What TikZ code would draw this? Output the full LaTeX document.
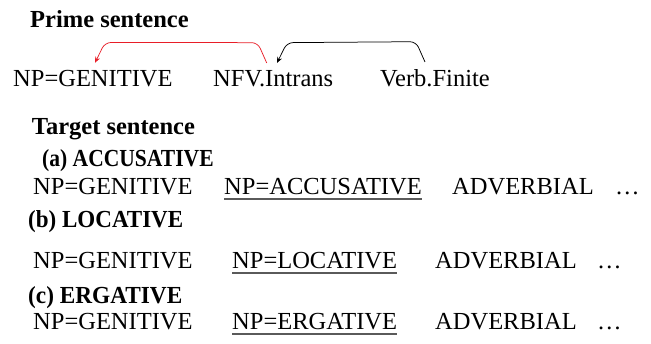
\documentclass[tikz,border=0pt]{standalone}
\usepackage{fontspec}
\setmainfont{Liberation Serif}
\usetikzlibrary{arrows.meta,calc}
\definecolor{linkred}{RGB}{232,30,40}
\definecolor{ulgray}{RGB}{90,90,90}
\tikzset{
  word/.style={anchor=base west, inner sep=0pt, font=\fontsize{24.5}{29}\selectfont},
  head/.style={anchor=base west, inner sep=0pt, font=\fontsize{24.5}{29}\selectfont\bfseries},
  uline/.style={draw=ulgray, line width=1.3pt},
  link/.style={-{Stealth[length=6pt,width=5pt]}, line width=0.75pt, rounded corners=6pt},
}
\begin{document}
\begin{tikzpicture}[x=1pt,y=1pt]
\useasboundingbox (0,0) rectangle (651,344);
% prime sentence
\node[head] (prime) at (30,316) {Prime sentence};
\node[word] (pgen) at (13,257.3) {NP=GENITIVE};
\node[word] (nfv) at (213,257.3) {NFV.Intrans};
\node[word] (verb) at (380,257.3) {Verb.Finite};
\coordinate (rs) at ([xshift=53.7pt,yshift=7.5pt]nfv.north west);
\coordinate (rt) at ([xshift=82pt,yshift=7.5pt]pgen.north west);
\coordinate (bs) at ([xshift=45pt,yshift=7.5pt]verb.north west);
\coordinate (bt) at ([xshift=64pt,yshift=7.5pt]nfv.north west);
\draw[link, draw=linkred] (rs) -- ++(-9,20.3) -- ($(rt)+(10,20.3)$) -- (rt);
\draw[link, draw=black] (bs) -- ++(-9,20.3) -- ($(bt)+(10,20.3)$) -- (bt);
% target sentence
\node[head] (target) at (31.7,209) {Target sentence};
\node[head] (ha) at (42,177) {\scalebox{0.88}[1]{(a) ACCUSATIVE}};
\node[word] (agen) at (33,149) {NP=GENITIVE};
\node[word] (aacc) at (224,149) {NP=ACCUSATIVE};
\node[word] (aadv) at (452,149) {ADVERBIAL};
\node[word] (adot) at (615,149) {…};
\node[head] (hb) at (28,116) {\scalebox{0.94}[1]{(b) LOCATIVE}};
\node[word] (bgen) at (33,75) {NP=GENITIVE};
\node[word] (bloc) at (232,75) {NP=LOCATIVE};
\node[word] (badv) at (435,75) {ADVERBIAL};
\node[word] (bdot) at (597,75) {…};
\node[head] (hc) at (28,40) {\scalebox{0.95}[1]{(c) ERGATIVE}};
\node[word] (cgen) at (33,14) {NP=GENITIVE};
\node[word] (cerg) at (232,14) {NP=ERGATIVE};
\node[word] (cadv) at (435,14) {ADVERBIAL};
\node[word] (cdot) at (597,14) {…};
\draw[uline] ([yshift=-4pt]aacc.base west) -- ([yshift=-4pt]aacc.base east);
\draw[uline] ([yshift=-4pt]bloc.base west) -- ([yshift=-4pt]bloc.base east);
\draw[uline] ([yshift=-4pt]cerg.base west) -- ([yshift=-4pt]cerg.base east);
\end{tikzpicture}
\end{document}
